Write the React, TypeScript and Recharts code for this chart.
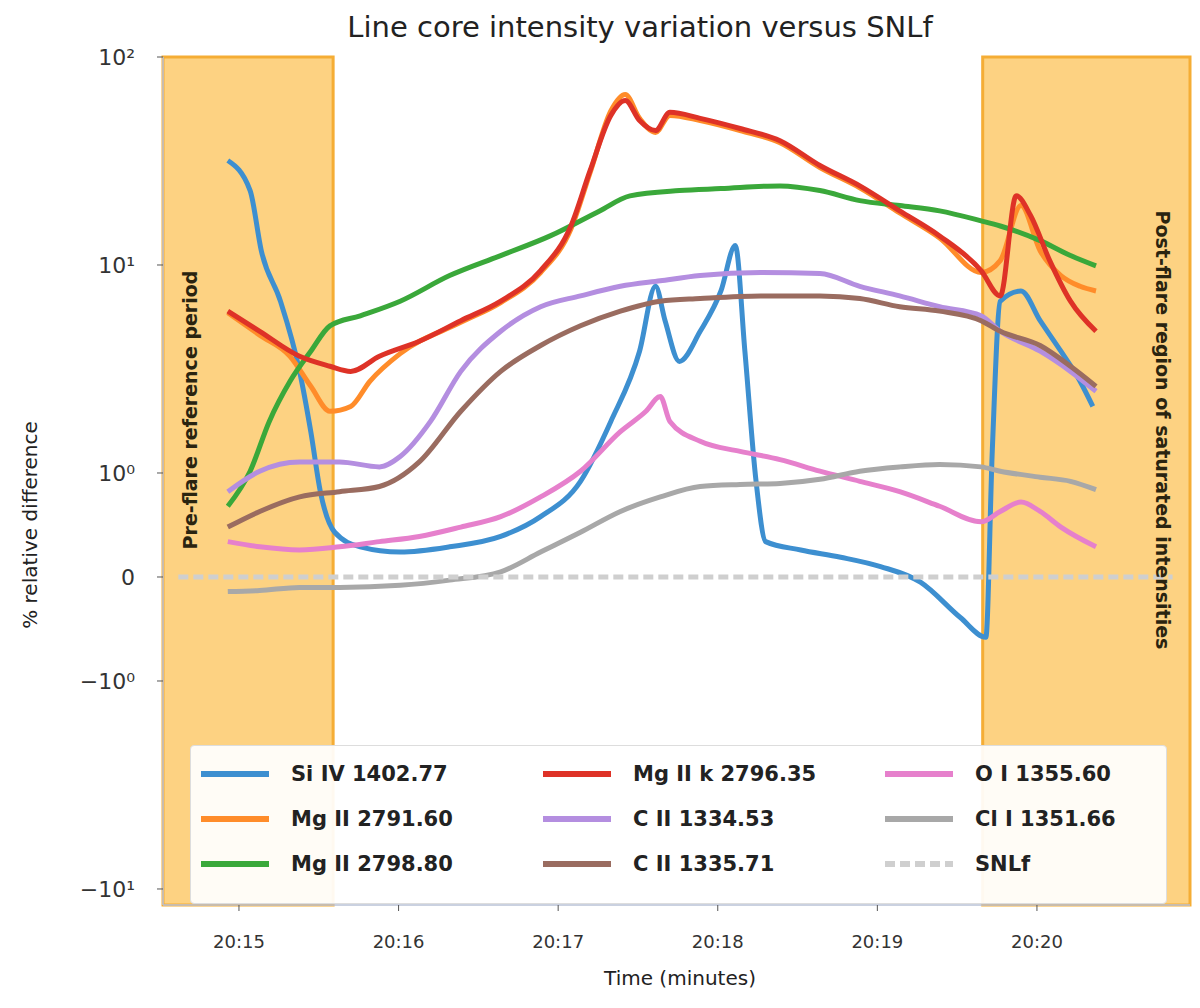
import React from 'react'
import { LineChart, Line, XAxis, YAxis, ReferenceArea } from 'recharts'

// --- data (t = minutes after 20:00, v = % difference) ---
const X_TICKS = [15, 16, 17, 18, 19, 20]
const X_LABELS = ['20:15', '20:16', '20:17', '20:18', '20:19', '20:20']
const Y_TICK_VALUES = [100, 10, 1, 0, -1, -10]
const Y_TICK_LABELS = ['10²', '10¹', '10⁰', '0', '−10⁰', '−10¹']
const BANDS = [[14.524, 15.59], [19.66, 20.959]]

const SI_IV = [
  { t: 14.93, v: 31.8 }, { t: 15.07, v: 22.8 }, { t: 15.14, v: 11.7 }, { t: 15.26, v: 6.7 },
  { t: 15.38, v: 3.08 }, { t: 15.45, v: 1.58 }, { t: 15.51, v: 0.82 }, { t: 15.6, v: 0.43 },
  { t: 15.76, v: 0.29 }, { t: 16.01, v: 0.24 }, { t: 16.32, v: 0.29 }, { t: 16.64, v: 0.39 },
  { t: 16.89, v: 0.58 }, { t: 17.14, v: 0.92 }, { t: 17.33, v: 1.77 }, { t: 17.51, v: 3.85 },
  { t: 17.61, v: 7.9 }, { t: 17.67, v: 5.4 }, { t: 17.76, v: 3.44 }, { t: 17.89, v: 4.8 },
  { t: 18.02, v: 7.5 }, { t: 18.11, v: 12.4 }, { t: 18.17, v: 3.85 }, { t: 18.24, v: 0.92 },
  { t: 18.3, v: 0.34 }, { t: 18.52, v: 0.26 }, { t: 18.77, v: 0.19 }, { t: 19.02, v: 0.1 },
  { t: 19.27, v: -0.05 }, { t: 19.52, v: -0.39 }, { t: 19.68, v: -0.58 }, { t: 19.72, v: 1.27 },
  { t: 19.77, v: 6.7 }, { t: 19.9, v: 7.5 }, { t: 20.02, v: 5.4 }, { t: 20.15, v: 3.85 },
  { t: 20.27, v: 2.76 }, { t: 20.35, v: 2.09 },
]

const MG_2791 = [
  { t: 14.93, v: 5.9 }, { t: 15.13, v: 4.6 }, { t: 15.32, v: 3.64 }, { t: 15.45, v: 2.61 },
  { t: 15.57, v: 1.98 }, { t: 15.7, v: 2.09 }, { t: 15.82, v: 2.76 }, { t: 16.01, v: 3.75 },
  { t: 16.39, v: 5.3 }, { t: 16.64, v: 6.6 }, { t: 16.89, v: 9.2 }, { t: 17.08, v: 14.9 },
  { t: 17.2, v: 27.8 }, { t: 17.33, v: 55 }, { t: 17.42, v: 66 }, { t: 17.51, v: 50.7 },
  { t: 17.61, v: 43.4 }, { t: 17.7, v: 52.4 }, { t: 17.89, v: 49.5 }, { t: 18.14, v: 44.3 },
  { t: 18.39, v: 38.7 }, { t: 18.64, v: 29.4 }, { t: 18.89, v: 23.5 }, { t: 19.14, v: 17.8 },
  { t: 19.39, v: 13.5 }, { t: 19.65, v: 9.2 }, { t: 19.77, v: 10.5 }, { t: 19.9, v: 19.3 },
  { t: 20.02, v: 11.7 }, { t: 20.15, v: 8.9 }, { t: 20.27, v: 7.9 }, { t: 20.37, v: 7.5 },
]

const MG_2798 = [
  { t: 14.93, v: 0.68 }, { t: 15.07, v: 1.02 }, { t: 15.19, v: 1.77 }, { t: 15.32, v: 2.76 },
  { t: 15.45, v: 3.85 }, { t: 15.57, v: 5.1 }, { t: 15.76, v: 5.7 }, { t: 16.01, v: 6.7 },
  { t: 16.32, v: 8.9 }, { t: 16.64, v: 11.1 }, { t: 16.95, v: 13.8 }, { t: 17.26, v: 18.2 },
  { t: 17.45, v: 21.5 }, { t: 17.76, v: 22.8 }, { t: 18.02, v: 23.3 }, { t: 18.39, v: 24.0 },
  { t: 18.64, v: 22.8 }, { t: 18.89, v: 20.4 }, { t: 19.14, v: 19.3 }, { t: 19.39, v: 18.2 },
  { t: 19.65, v: 16.3 }, { t: 19.77, v: 15.4 }, { t: 20.02, v: 13.1 }, { t: 20.21, v: 11.1 },
  { t: 20.37, v: 9.9 },
]

const MG_K = [
  { t: 14.93, v: 6.0 }, { t: 15.13, v: 4.8 }, { t: 15.38, v: 3.64 }, { t: 15.57, v: 3.26 },
  { t: 15.7, v: 3.08 }, { t: 15.88, v: 3.64 }, { t: 16.13, v: 4.3 }, { t: 16.39, v: 5.4 },
  { t: 16.64, v: 6.7 }, { t: 16.89, v: 9.4 }, { t: 17.08, v: 15.4 }, { t: 17.2, v: 28.4 },
  { t: 17.33, v: 52.4 }, { t: 17.42, v: 61.8 }, { t: 17.51, v: 49.5 }, { t: 17.61, v: 44.3 },
  { t: 17.7, v: 54.2 }, { t: 17.89, v: 50.7 }, { t: 18.14, v: 45.3 }, { t: 18.39, v: 39.6 },
  { t: 18.64, v: 30.1 }, { t: 18.89, v: 24.0 }, { t: 19.14, v: 18.2 }, { t: 19.39, v: 13.8 },
  { t: 19.65, v: 9.4 }, { t: 19.77, v: 7.1 }, { t: 19.87, v: 21.5 }, { t: 19.96, v: 17.3 },
  { t: 20.08, v: 10.5 }, { t: 20.21, v: 6.7 }, { t: 20.37, v: 4.8 },
]

const C_1334 = [
  { t: 14.93, v: 0.82 }, { t: 15.13, v: 1.02 }, { t: 15.38, v: 1.13 }, { t: 15.63, v: 1.13 },
  { t: 15.88, v: 1.07 }, { t: 16.01, v: 1.2 }, { t: 16.2, v: 1.77 }, { t: 16.39, v: 3.08 },
  { t: 16.64, v: 4.8 }, { t: 16.89, v: 6.3 }, { t: 17.14, v: 7.1 }, { t: 17.39, v: 7.9 },
  { t: 17.64, v: 8.4 }, { t: 17.89, v: 8.9 }, { t: 18.27, v: 9.2 }, { t: 18.64, v: 9.1 },
  { t: 18.89, v: 7.9 }, { t: 19.14, v: 7.1 }, { t: 19.39, v: 6.3 }, { t: 19.65, v: 5.7 },
  { t: 19.77, v: 4.8 }, { t: 20.02, v: 3.85 }, { t: 20.21, v: 3.08 }, { t: 20.37, v: 2.47 },
]

const C_1335 = [
  { t: 14.93, v: 0.48 }, { t: 15.13, v: 0.63 }, { t: 15.38, v: 0.77 }, { t: 15.63, v: 0.82 },
  { t: 15.88, v: 0.87 }, { t: 16.13, v: 1.13 }, { t: 16.39, v: 1.98 }, { t: 16.64, v: 3.08 },
  { t: 16.89, v: 4.1 }, { t: 17.14, v: 5.1 }, { t: 17.39, v: 6.0 }, { t: 17.64, v: 6.7 },
  { t: 17.89, v: 6.9 }, { t: 18.27, v: 7.1 }, { t: 18.64, v: 7.1 }, { t: 18.89, v: 6.9 },
  { t: 19.14, v: 6.3 }, { t: 19.39, v: 6.0 }, { t: 19.65, v: 5.4 }, { t: 19.77, v: 4.8 },
  { t: 20.02, v: 4.1 }, { t: 20.21, v: 3.26 }, { t: 20.37, v: 2.61 },
]

const O_I = [
  { t: 14.93, v: 0.34 }, { t: 15.13, v: 0.29 }, { t: 15.38, v: 0.26 }, { t: 15.63, v: 0.29 },
  { t: 15.88, v: 0.34 }, { t: 16.13, v: 0.39 }, { t: 16.39, v: 0.48 }, { t: 16.64, v: 0.58 },
  { t: 16.89, v: 0.77 }, { t: 17.14, v: 1.02 }, { t: 17.39, v: 1.58 }, { t: 17.55, v: 1.98 },
  { t: 17.64, v: 2.33 }, { t: 17.7, v: 1.77 }, { t: 17.89, v: 1.42 }, { t: 18.14, v: 1.27 },
  { t: 18.39, v: 1.16 }, { t: 18.64, v: 1.02 }, { t: 18.89, v: 0.92 }, { t: 19.14, v: 0.82 },
  { t: 19.39, v: 0.68 }, { t: 19.65, v: 0.53 }, { t: 19.77, v: 0.63 }, { t: 19.9, v: 0.72 },
  { t: 20.02, v: 0.63 }, { t: 20.15, v: 0.48 }, { t: 20.37, v: 0.29 },
]

const CL_I = [
  { t: 14.93, v: -0.14 }, { t: 15.13, v: -0.13 }, { t: 15.38, v: -0.1 }, { t: 15.63, v: -0.1 },
  { t: 16.01, v: -0.08 }, { t: 16.32, v: -0.03 }, { t: 16.64, v: 0.05 }, { t: 16.89, v: 0.24 },
  { t: 17.14, v: 0.43 }, { t: 17.39, v: 0.63 }, { t: 17.64, v: 0.77 }, { t: 17.89, v: 0.87 },
  { t: 18.14, v: 0.89 }, { t: 18.39, v: 0.9 }, { t: 18.64, v: 0.94 }, { t: 18.89, v: 1.02 },
  { t: 19.14, v: 1.07 }, { t: 19.39, v: 1.1 }, { t: 19.65, v: 1.07 }, { t: 19.77, v: 1.02 },
  { t: 20.02, v: 0.96 }, { t: 20.21, v: 0.92 }, { t: 20.37, v: 0.84 },
]

const ZERO = [{ t: 14.62, v: 0 }, { t: 20.85, v: 0 }]

// symlog-ish transform: linear below 1, log10 above
const LIN = 0.5
const symlog = (v: number) => {
  const a = Math.abs(v)
  return Math.sign(v) * (a < 1 ? a * LIN : LIN + Math.log10(a))
}

const SERIES = [
  { name: 'Si IV 1402.77', data: SI_IV, color: '#3d8fd0' },
  { name: 'Mg II 2791.60', data: MG_2791, color: '#ff8c2a' },
  { name: 'Mg II 2798.80', data: MG_2798, color: '#3aa83a' },
  { name: 'Mg II k 2796.35', data: MG_K, color: '#de3227' },
  { name: 'C II 1334.53', data: C_1334, color: '#b48ee0' },
  { name: 'C II 1335.71', data: C_1335, color: '#9a6c60' },
  { name: 'O I 1355.60', data: O_I, color: '#e680cc' },
  { name: 'Cl I 1351.66', data: CL_I, color: '#a8a8a8' },
  { name: 'SNLf', data: ZERO, color: '#cfcfcf', dash: '10 5' },
]

const FONT = '"DejaVu Sans", sans-serif'
const tickStyle = { fill: '#333', fontSize: 18, fontFamily: FONT }
const spine = { stroke: '#b8c2d6', strokeWidth: 1.5 }
const Y_TICKS = Y_TICK_VALUES.map(symlog)

export default function App() {
  return (
    <div style={{ position: 'absolute', left: 0, top: 0, width: 1200, height: 1008, background: '#fff', fontFamily: FONT }}>
      <LineChart width={1200} height={1008} data={SI_IV} margin={{ top: 57, right: 10, bottom: 0, left: 0 }}>
        <XAxis
          dataKey="t" type="number" domain={[14.524, 20.959]} ticks={X_TICKS}
          tickFormatter={(t) => X_LABELS[X_TICKS.indexOf(t)]}
          height={103} tick={tickStyle} axisLine={spine} tickLine={{ stroke: '#555' }} tickSize={6} tickMargin={24}
          allowDataOverflow
        />
        <XAxis xAxisId="top" orientation="top" dataKey="t" type="number" domain={[14.524, 20.959]}
          height={0} tick={false} tickLine={false} axisLine={spine} allowDataOverflow />
        <YAxis
          type="number" domain={[-1.577, 2.5]} ticks={Y_TICKS}
          tickFormatter={(v) => Y_TICK_LABELS[Y_TICKS.findIndex((s) => Math.abs(s - v) < 1e-6)]}
          width={163} tick={{ ...tickStyle, fontSize: 22 }} axisLine={spine} tickLine={{ stroke: '#555' }} tickSize={6} tickMargin={22}
          allowDataOverflow interval={0}
        />
        <YAxis yAxisId="right" orientation="right" type="number" domain={[-1.577, 2.5]}
          width={0} tick={false} tickLine={false} axisLine={spine} />
        {BANDS.map(([a, b], i) => (
          <ReferenceArea key={i} x1={a} x2={b} fill="#fdd282" fillOpacity={1} stroke="#f5ad35" strokeWidth={3} />
        ))}
        {SERIES.map((s) => (
          <Line
            key={s.name}
            data={s.data}
            dataKey={(d: { v: number }) => symlog(d.v)}
            name={s.name}
            type="monotone"
            stroke={s.color}
            strokeWidth={5}
            strokeDasharray={s.dash}
            dot={false}
            isAnimationActive={false}
          />
        ))}
      </LineChart>

      {/* title, axis label, band notes */}
      <div style={{ position: 'absolute', left: 640, top: 10, transform: 'translateX(-50%)', fontSize: 29, color: '#222', whiteSpace: 'nowrap' }}>
        Line core intensity variation versus SNLf
      </div>
      <div style={{ position: 'absolute', left: 680, top: 966, transform: 'translateX(-50%)', fontSize: 20, color: '#222', whiteSpace: 'nowrap' }}>
        Time (minutes)
      </div>
      <div style={{ position: 'absolute', left: 30, top: 525, transform: 'translate(-50%, -50%) rotate(-90deg)', fontSize: 20, color: '#222', whiteSpace: 'nowrap' }}>
        % relative difference
      </div>
      <div style={{ position: 'absolute', left: 190, top: 410, transform: 'translate(-50%, -50%) rotate(-90deg)', fontSize: 19, fontWeight: 700, color: '#2a2410', whiteSpace: 'nowrap' }}>
        Pre-flare reference period
      </div>
      <div style={{ position: 'absolute', left: 1163, top: 430, transform: 'translate(-50%, -50%) rotate(90deg)', fontSize: 19, fontWeight: 700, color: '#2a2410', whiteSpace: 'nowrap' }}>
        Post-flare region of saturated intensities
      </div>

      {/* legend */}
      <div style={{ position: 'absolute', left: 190, top: 745, width: 975, height: 157, background: 'rgba(255,255,255,0.93)', border: '1px solid #ddd', borderRadius: 4 }}>
        {SERIES.map((s, i) => {
          const col = Math.floor(i / 3)
          const row = i % 3
          return (
            <div key={s.name} style={{ position: 'absolute', left: 10 + col * 342, top: 14 + row * 45, display: 'flex', alignItems: 'center', height: 28 }}>
              <svg width={68} height={10} style={{ marginRight: 22 }}>
                <line x1={0} y1={5} x2={68} y2={5} stroke={s.color} strokeWidth={6} strokeDasharray={s.dash} />
              </svg>
              <span style={{ fontSize: 21, fontWeight: 700, color: '#222', whiteSpace: 'nowrap' }}>{s.name}</span>
            </div>
          )
        })}
      </div>
    </div>
  )
}
